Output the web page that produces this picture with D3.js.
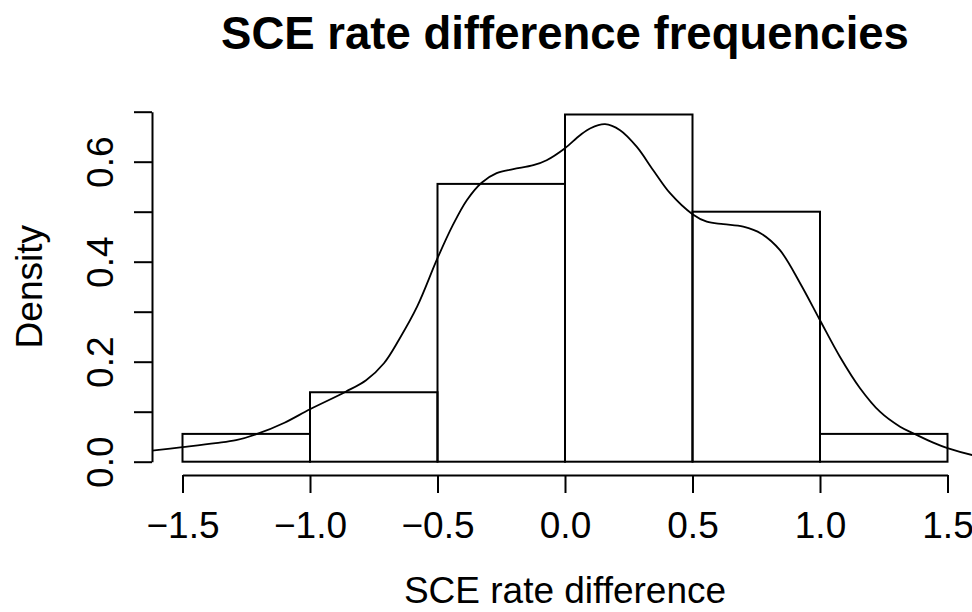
<!DOCTYPE html>
<html>
<head>
<meta charset="utf-8">
<script src="https://cdn.jsdelivr.net/npm/d3@7"></script>
<style>
  html, body { margin: 0; padding: 0; background: #fff; }
  svg { display: block; }
  text { font-family: "Liberation Sans", Arial, Helvetica, sans-serif; fill: #000; }
</style>
</head>
<body>
<svg id="chart" width="972" height="612"></svg>
<script>
// ---- data ----
const binEdges = [-1.5, -1.0, -0.5, 0.0, 0.5, 1.0, 1.5];
const binDensity = [0.0556, 0.1389, 0.5556, 0.6944, 0.5, 0.0556];
const xTicks = [-1.5, -1.0, -0.5, 0.0, 0.5, 1.0, 1.5];
const yTicks = [0.0, 0.1, 0.2, 0.3, 0.4, 0.5, 0.6, 0.7];
const yLabelTicks = [0.0, 0.2, 0.4, 0.6];
const densX = [-1.62, -1.5, -1.37, -1.29, -1.21, -1.1, -1.0, -0.86, -0.78, -0.71, -0.65, -0.58, -0.5, -0.44, -0.385, -0.327, -0.268, -0.203, -0.124, -0.072, 0.0, 0.059, 0.1, 0.157, 0.216, 0.281, 0.346, 0.412, 0.5, 0.556, 0.621, 0.699, 0.77, 0.843, 0.922, 1.0, 1.078, 1.157, 1.235, 1.314, 1.373, 1.444, 1.5, 1.6, 1.65];
const densY = [0.022, 0.029, 0.037, 0.043, 0.055, 0.078, 0.105, 0.14, 0.163, 0.197, 0.245, 0.31, 0.407, 0.473, 0.523, 0.558, 0.577, 0.585, 0.593, 0.603, 0.627, 0.653, 0.667, 0.675, 0.663, 0.63, 0.583, 0.537, 0.495, 0.48, 0.475, 0.47, 0.456, 0.423, 0.357, 0.283, 0.21, 0.147, 0.1, 0.07, 0.055, 0.038, 0.027, 0.013, 0.009];
const titleText = "SCE rate difference frequencies";
const xLabelText = "SCE rate difference";
const yLabelText = "Density";

// ---- layout ----
const svg = d3.select("#chart");
const plot = { left: 152, right: 978, top: 100.7, bottom: 475 };
const x = d3.scaleLinear().domain([-1.5, 1.5]).range([182.5, 947.5]);
const y = d3.scaleLinear().domain([0, 0.7]).range([461.7, 111.7]);
const fmt = d3.format(".1f");
const lw = 2;
const fontAxis = "37px";

svg.append("defs").append("clipPath").attr("id", "clip")
  .append("rect")
  .attr("x", plot.left).attr("y", plot.top)
  .attr("width", plot.right - plot.left).attr("height", plot.bottom - plot.top);

// bars
const bins = binDensity.map((d, i) => ({ x0: binEdges[i], x1: binEdges[i + 1], d }));
svg.append("g").selectAll("rect").data(bins).join("rect")
  .attr("x", b => x(b.x0)).attr("width", b => x(b.x1) - x(b.x0))
  .attr("y", b => y(b.d)).attr("height", b => y(0) - y(b.d))
  .attr("fill", "none").attr("stroke", "#000").attr("stroke-width", lw);

// density line
const pts = densX.map((v, i) => [v, densY[i]]);
svg.append("path").datum(pts)
  .attr("clip-path", "url(#clip)")
  .attr("d", d3.line().x(p => x(p[0])).y(p => y(p[1])).curve(d3.curveCatmullRom.alpha(0.5)))
  .attr("fill", "none").attr("stroke", "#000").attr("stroke-width", 1.8);

// x axis
const xAxis = svg.append("g").attr("transform", `translate(0,${plot.bottom})`)
  .call(d3.axisBottom(x).tickValues(xTicks).tickFormat(fmt).tickSize(18).tickSizeOuter(0));
xAxis.selectAll("path, line").attr("stroke", "#000").attr("stroke-width", lw);
xAxis.selectAll("text").attr("y", 63).attr("dy", null)
  .style("font-size", fontAxis).style("font-family", "'Liberation Sans', Arial, sans-serif").attr("fill", "#000");

// y axis
const yAxis = svg.append("g").attr("transform", `translate(${plot.left},0)`)
  .call(d3.axisLeft(y).tickValues(yTicks).tickFormat(v => yLabelTicks.includes(v) ? fmt(v) : "").tickSize(18).tickSizeOuter(0));
yAxis.selectAll("path, line").attr("stroke", "#000").attr("stroke-width", lw);
yAxis.selectAll("text").attr("x", null).attr("dy", null)
  .attr("text-anchor", "middle")
  .attr("transform", "translate(-39,0) rotate(-90)")
  .style("font-size", fontAxis).style("font-family", "'Liberation Sans', Arial, sans-serif").attr("fill", "#000");

// labels
svg.append("text").attr("x", 565).attr("y", 49).attr("text-anchor", "middle")
  .style("font-size", "45.5px").style("font-weight", "bold").text(titleText);
svg.append("text").attr("x", 565).attr("y", 603).attr("text-anchor", "middle")
  .style("font-size", fontAxis).text(xLabelText);
svg.append("text").attr("transform", `translate(42,${(y(0) + y(0.7)) / 2}) rotate(-90)`)
  .attr("text-anchor", "middle").style("font-size", fontAxis).text(yLabelText);
</script>
</body>
</html>
